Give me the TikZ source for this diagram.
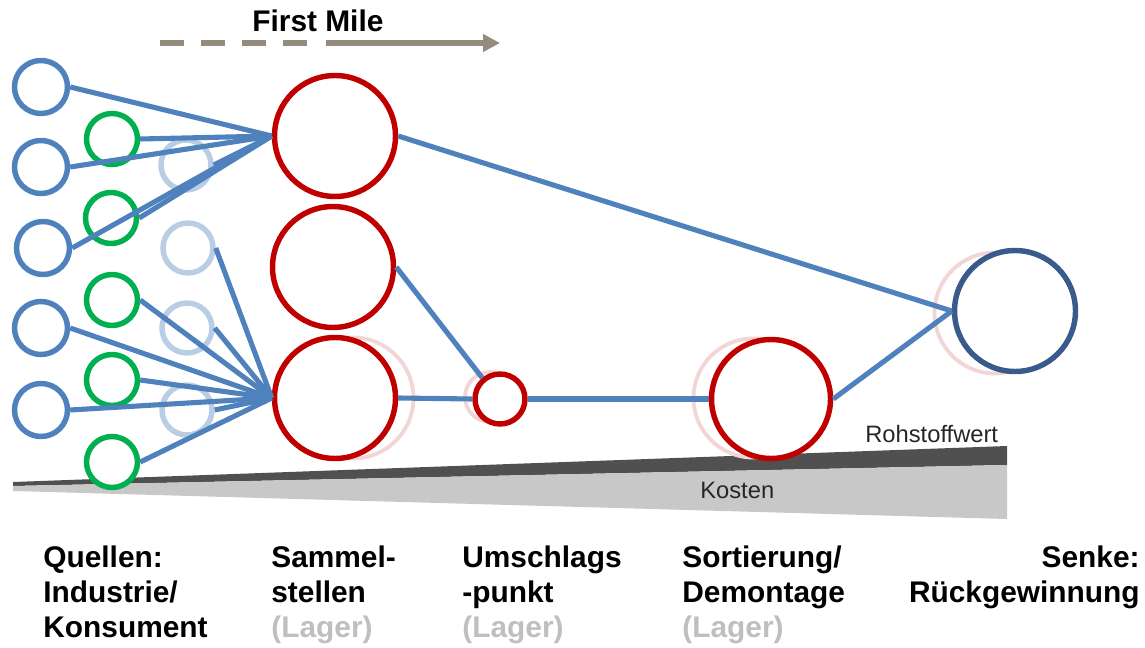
\documentclass[tikz,border=0pt]{standalone}
\usepackage{fontspec}
\setmainfont{Liberation Sans}
\usetikzlibrary{arrows.meta}
\definecolor{lineblue}{HTML}{4F81BD}
\definecolor{srcblue}{HTML}{4F81BD}
\definecolor{srcgreen}{HTML}{00B050}
\definecolor{paleblue}{HTML}{B9CDE5}
\definecolor{hubred}{HTML}{C00000}
\definecolor{ghostpink}{HTML}{F2D6D6}
\definecolor{sinkblue}{HTML}{3A5A8C}
\definecolor{milegray}{HTML}{948B7E}
\definecolor{darkband}{HTML}{505050}
\definecolor{lightband}{HTML}{C8C8C8}
\definecolor{lagergray}{HTML}{BFBFBF}
\begin{document}
\begin{tikzpicture}[x=0.02cm,y=-0.02cm,
  circ/.style={circle,draw,fill=white,line width=3.1pt,inner sep=0pt},
  bsrc/.style={circ,draw=srcblue,minimum size=1.06cm},
  gsrc/.style={circ,draw=srcgreen,minimum size=1.02cm},
  psrc/.style={circ,draw=paleblue,minimum size=1.0cm},
  bighub/.style={circ,draw=hubred,minimum size=2.42cm},
  ghost/.style={circle,draw=ghostpink,line width=2.2pt,inner sep=0pt},
  flow/.style={draw=lineblue,line width=2.9pt},
  lbl/.style={font=\fontsize{17}{19.8}\selectfont\bfseries,inner sep=0pt},
  lager/.style={lbl,text=lagergray},
  band/.style={font=\fontsize{13.5}{16}\selectfont,inner sep=0pt,text=black!85},
]
\useasboundingbox (0,0) rectangle (1145,648);

% cost / value wedge
\fill[darkband] (13,482) -- (1007,446) -- (1007,465) -- (13,486) -- cycle;
\fill[lightband] (13,486) -- (1007,465) -- (1007,519) -- (13,491) -- cycle;
\node[band,anchor=base west] (rw) at (865,442) {Rohstoffwert};
\node[band,anchor=base west] (ko) at (700,498) {Kosten};

% First Mile arrow
\coordinate (fm0) at (160,43);
\coordinate (fm1) at (310,43);
\coordinate (fm2) at (326,43);
\coordinate (fm3) at (500,43);
\draw[milegray,line width=3pt,dash pattern=on 0.48cm off 0.34cm] (fm0) -- (fm1);
\draw[milegray,line width=3pt,-{Triangle[length=0.34cm,width=0.34cm]}] (fm2) -- (fm3);
\node[lbl,font=\fontsize{17}{19}\selectfont\bfseries,anchor=base west] (fm) at (252,32) {First Mile};

% ghost circles
\node[ghost,minimum size=2.42cm] (gr3) at (353,398) {};
\node[ghost,minimum size=1.0cm] (gum) at (490,397) {};
\node[ghost,minimum size=2.38cm] (gso) at (753,398) {};
\node[ghost,minimum size=2.42cm] (gsk) at (995,313) {};

% sources
\node[bsrc] (b1) at (41,87) {};
\node[bsrc] (b2) at (41,167) {};
\node[bsrc] (b3) at (43,248) {};
\node[bsrc] (b4) at (41,328) {};
\node[bsrc] (b5) at (41,410) {};
\node[gsrc] (g1) at (112,139) {};
\node[gsrc] (g2) at (111,218) {};
\node[gsrc] (g3) at (112,300) {};
\node[gsrc] (g4) at (112,380) {};
\node[gsrc] (g5) at (112,462) {};
\node[psrc] (p1) at (186,165) {};
\node[psrc] (p2) at (188,248) {};
\node[psrc] (p3) at (187,328) {};
\node[psrc] (p4) at (187,410) {};

% hubs
\node[bighub] (r1) at (335,136) {};
\node[bighub] (r2) at (333,267) {};
\node[bighub] (r3) at (335,398) {};
\node[circ,draw=hubred,minimum size=1.0cm] (um) at (500,399) {};
\node[circ,draw=hubred,minimum size=2.38cm] (so) at (771,399) {};
\node[circ,draw=sinkblue,minimum size=2.42cm] (sk) at (1015,311) {};

% flows
\foreach \s in {b1,g1,b2,p1,g2,b3} \draw[flow] (\s.east) -- (r1.west);
\foreach \s in {p2,g3,p3,b4,g4,b5,p4,g5} \draw[flow] (\s.east) -- (r3.west);
\draw[flow] (r1.east) -- (sk.west);
\draw[flow] (r2.east) -- (um.130);
\draw[flow] (r3.east) -- (um.west);
\draw[flow] (um.east) -- (so.west);
\draw[flow] (so.east) -- (sk.west);

% labels
\node[lbl,anchor=base west] (q1) at (43,567) {Quellen:};
\node[lbl,anchor=base west] (q2) at (43,602) {Industrie/};
\node[lbl,anchor=base west] (q3) at (43,637) {Konsument};
\node[lbl,anchor=base west] (s1) at (271,567) {Sammel-};
\node[lbl,anchor=base west] (s2) at (271,602) {stellen};
\node[lager,anchor=base west] (s3) at (271,637) {(Lager)};
\node[lbl,anchor=base west] (u1) at (462,567) {Umschlags};
\node[lbl,anchor=base west] (u2) at (462,602) {-punkt};
\node[lager,anchor=base west] (u3) at (462,637) {(Lager)};
\node[lbl,anchor=base west] (d1) at (682,567) {Sortierung/};
\node[lbl,anchor=base west] (d2) at (682,602) {Demontage};
\node[lager,anchor=base west] (d3) at (682,637) {(Lager)};
\node[lbl,anchor=base east] (k1) at (1140,567) {Senke:};
\node[lbl,anchor=base east] (k2) at (1140,602) {Rückgewinnung};
\end{tikzpicture}
\end{document}
